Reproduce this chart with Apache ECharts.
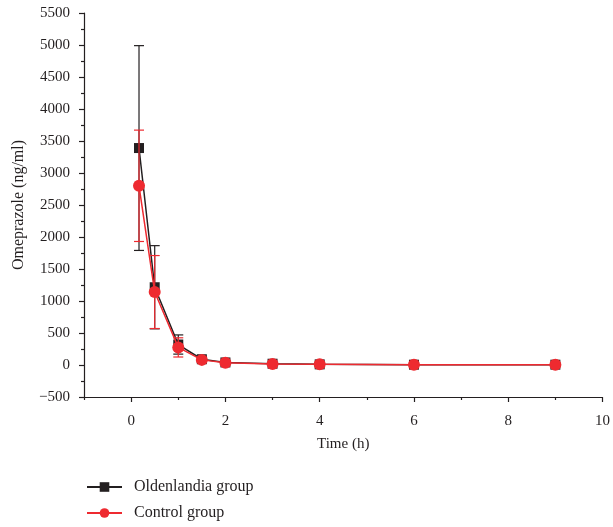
<!DOCTYPE html>
<html>
<head>
<meta charset="utf-8">
<script src="https://cdn.jsdelivr.net/npm/echarts@6/dist/echarts.min.js"></script>
<style>html,body{margin:0;padding:0;background:#fff}#c{width:613px;height:527px}</style>
</head>
<body>
<div id="c"></div>
<script>
const time = [0.167, 0.5, 1, 1.5, 2, 3, 4, 6, 9];
const oldMean = [3390, 1215, 320, 90, 40, 20, 10, 5, 5];
const oldSD = [1600, 650, 150, 40, 20, 10, 8, 5, 5];
const ctrlMean = [2800, 1140, 275, 80, 35, 15, 10, 5, 5];
const ctrlSD = [870, 570, 150, 40, 20, 10, 8, 5, 5];
const xMajor = [0, 2, 4, 6, 8, 10];
const xMinor = [-1, 1, 3, 5, 7, 9];
const seriesNames = ['Oldenlandia group', 'Control group'];

const BLACK = '#231f20', RED = '#ee2a30';
const FONT = 'Liberation Serif';

function pts(m) { return time.map((t, i) => [t, m[i]]); }
function errs(m, s) { return time.map((t, i) => [t, m[i] - s[i], m[i] + s[i]]); }
function fmt(v) { return String(v).replace('-', '\u2212'); }
function errSeries(name, data, color, z) {
  return {
    type: 'custom', name: name + ' err', z: z, silent: true,
    data: data,
    encode: { x: 0, y: [1, 2] },
    renderItem: function (params, api) {
      const x = api.value(0);
      const lo = api.coord([x, api.value(1)]);
      const hi = api.coord([x, api.value(2)]);
      const w = 5;
      const st = { stroke: color, lineWidth: 1.2 };
      return {
        type: 'group', children: [
          { type: 'line', shape: { x1: lo[0], y1: lo[1], x2: hi[0], y2: hi[1] }, style: st },
          { type: 'line', shape: { x1: lo[0] - w, y1: lo[1], x2: lo[0] + w, y2: lo[1] }, style: st },
          { type: 'line', shape: { x1: hi[0] - w, y1: hi[1], x2: hi[0] + w, y2: hi[1] }, style: st }
        ]
      };
    }
  };
}

const chart = echarts.init(document.getElementById('c'), null, { renderer: 'canvas' });
const axisText = { color: BLACK, fontFamily: FONT, fontSize: 15 };
chart.setOption({
  animation: false,
  backgroundColor: '#fff',
  textStyle: { fontFamily: FONT },
  grid: { left: 84, right: 9, top: 13, bottom: 130 },
  legend: {
    orient: 'vertical', left: 81, top: 474, itemGap: 10,
    itemWidth: 35, itemHeight: 12,
    data: seriesNames,
    textStyle: { color: BLACK, fontFamily: FONT, fontSize: 16, padding: [0, 0, 0, 7] }
  },
  xAxis: [{
    type: 'value', min: -1, max: 10,
    name: 'Time (h)', nameLocation: 'middle', nameGap: 40,
    nameTextStyle: axisText,
    axisLine: { onZero: false, lineStyle: { color: BLACK, width: 1.2 } },
    axisTick: { customValues: xMajor, length: 5, lineStyle: { color: BLACK, width: 1.2 } },
    axisLabel: { customValues: xMajor, margin: 17, color: BLACK, fontFamily: FONT, fontSize: 15, formatter: fmt },
    splitLine: { show: false }
  }, {
    type: 'value', min: -1, max: 10, position: 'bottom', offset: 0,
    axisLine: { show: false, onZero: false },
    axisTick: { customValues: xMinor, length: 3, lineStyle: { color: BLACK, width: 1.2 } },
    axisLabel: { show: false },
    splitLine: { show: false }
  }],
  yAxis: {
    type: 'value', min: -500, max: 5500, interval: 500,
    name: 'Omeprazole (ng/ml)', nameLocation: 'middle', nameGap: 57,
    nameTextStyle: { color: BLACK, fontFamily: FONT, fontSize: 16 },
    axisLine: { show: true, onZero: false, lineStyle: { color: BLACK, width: 1.2 } },
    axisTick: { show: true, length: 5, lineStyle: { color: BLACK, width: 1.2 } },
    minorTick: { show: true, splitNumber: 2, length: 3, lineStyle: { color: BLACK, width: 1.2 } },
    axisLabel: { margin: 14, color: BLACK, fontFamily: FONT, fontSize: 15, formatter: fmt },
    splitLine: { show: false }
  },
  series: [
    errSeries(seriesNames[0], errs(oldMean, oldSD), BLACK, 1),
    {
      type: 'line', name: seriesNames[0], z: 2, data: pts(oldMean),
      symbol: 'rect', symbolSize: 10,
      itemStyle: { color: BLACK }, lineStyle: { color: BLACK, width: 1.5 }
    },
    errSeries(seriesNames[1], errs(ctrlMean, ctrlSD), RED, 3),
    {
      type: 'line', name: seriesNames[1], z: 4, data: pts(ctrlMean),
      symbol: 'circle', symbolSize: 12,
      itemStyle: { color: RED }, lineStyle: { color: RED, width: 1.5 }
    }
  ]
});
</script>
</body>
</html>
